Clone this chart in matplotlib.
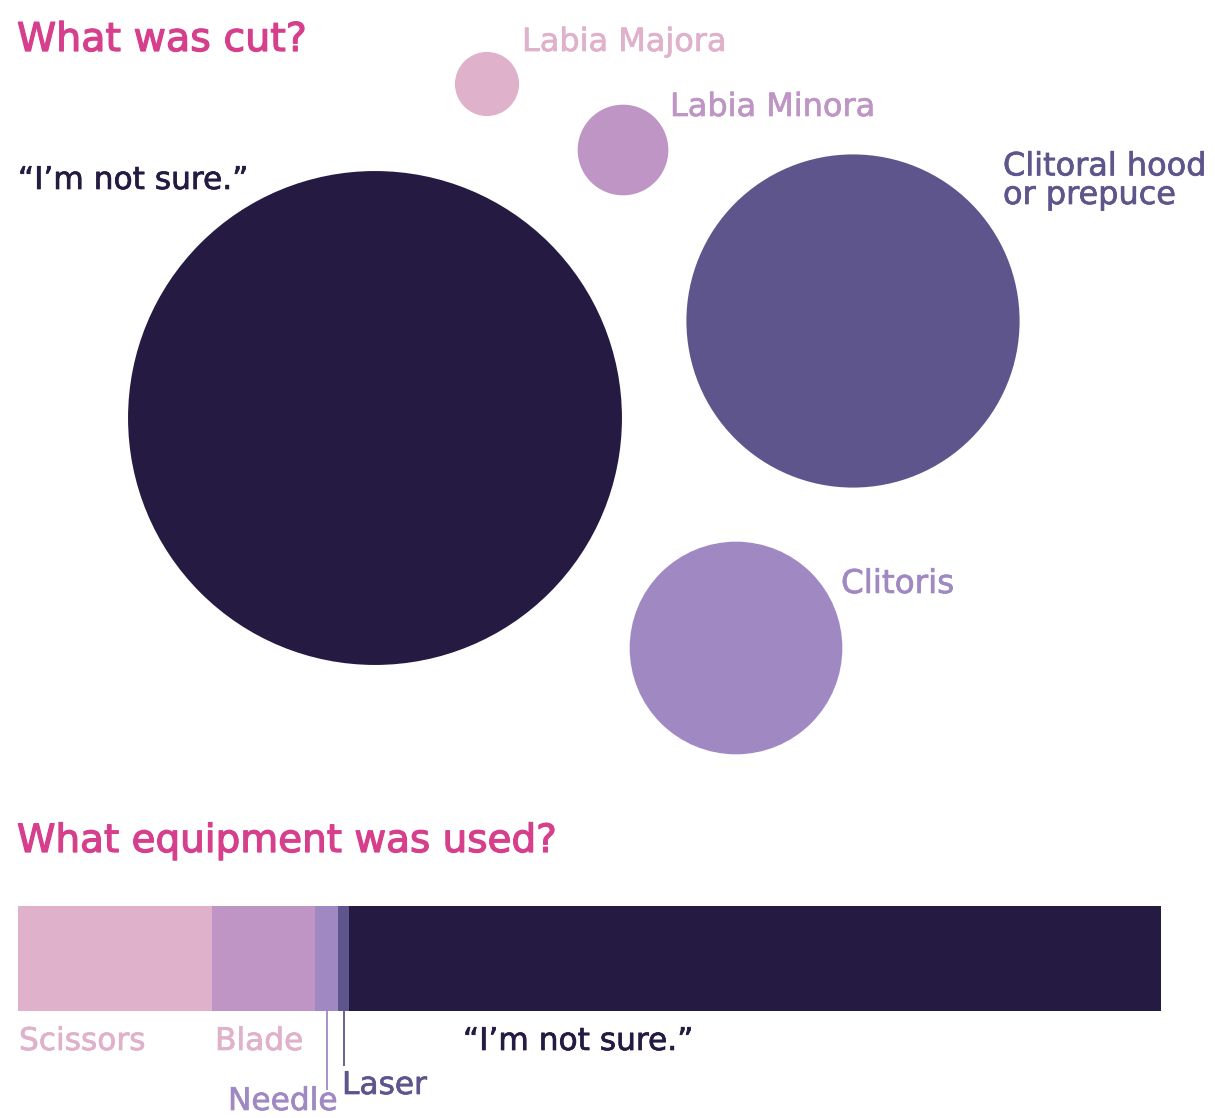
import matplotlib
matplotlib.use("Agg")
import matplotlib.pyplot as plt
import matplotlib.patheffects as pe
from matplotlib.patches import Circle
import numpy as np

# ---- data ----
cut_labels = ["\u201cI\u2019m not sure.\u201d", "Clitoral hood\nor prepuce", "Clitoris", "Labia Minora", "Labia Majora"]
cut_values = [178, 81, 33, 6, 3]
cut_colors = ["#241a42", "#5e558c", "#a089c2", "#be95c5", "#dfb1cb"]

equip_labels = ["Scissors", "Blade", "Needle", "Laser", "\u201cI\u2019m not sure.\u201d"]
equip_values = [17, 9, 2, 1, 71]
equip_colors = ["#dfb1cb", "#be95c5", "#a089c2", "#5e558c", "#241a42"]
equip_label_colors = ["#dfb1cb", "#dfb1cb", "#a089c2", "#5e558c", "#241a42"]

TITLE_COLOR = "#d63f8c"
W, H = 1215, 1118

# ---- layout (pixel positions) ----
centers = [(375, 418), (853, 321), (736, 648), (623, 150), (487, 84)]
label_pos = [(18, 189), (1003, 204), (841, 593), (670, 116), (522, 51)]
label_sizes = [22.5, 23, 23.5, 23, 23]
scale = 18.51  # radius per sqrt(value)

fig = plt.figure(figsize=(W / 100, H / 100), dpi=100)
ax = fig.add_axes([0, 0, 1, 1])
ax.set_xlim(0, W)
ax.set_ylim(H, 0)
ax.axis("off")

FONT = "DejaVu Sans"
thick = [pe.withStroke(linewidth=0.9, foreground=TITLE_COLOR)]
ax.text(17, 51, "What was cut?", color=TITLE_COLOR, fontsize=28.5, family=FONT,
        va="baseline", ha="left", path_effects=thick)
ax.text(17, 852, "What equipment was used?", color=TITLE_COLOR, fontsize=28, family=FONT,
        va="baseline", ha="left", path_effects=thick)

for lab, v, c, (cx, cy), (lx, ly), fs in zip(cut_labels, cut_values, cut_colors, centers,
                                              label_pos, label_sizes):
    r = scale * np.sqrt(v)
    ax.add_patch(Circle((cx, cy), r, color=c, lw=0))
    ax.text(lx, ly, lab, color=c, fontsize=fs, family=FONT, va="baseline", ha="left",
            linespacing=0.9, path_effects=[pe.withStroke(linewidth=0.5, foreground=c)])

# ---- equipment bar ----
bx0, bx1, by_top, by_bot = 18, 1161, 906, 1011
bax = fig.add_axes([bx0 / W, 1 - by_bot / H, (bx1 - bx0) / W, (by_bot - by_top) / H])
total = sum(equip_values)
bax.set_xlim(0, total)
bax.set_ylim(0, 1)
bax.axis("off")
lefts = np.cumsum([0] + equip_values[:-1])
bax.barh(0.5, equip_values, left=lefts, height=1.0, color=equip_colors, linewidth=0)

# leader lines for small segments (Needle, Laser)
line_len = {2: -0.75, 3: -0.52}
for i, yend in line_len.items():
    xm = lefts[i] + equip_values[i] / 2
    bax.plot([xm, xm], [0, yend], color=equip_colors[i], lw=1.3, clip_on=False,
             solid_capstyle="butt")

eq_label_pos = [(19, 1050), (215, 1050), (228, 1110), (342, 1094), (463, 1050)]
for lab, c, (lx, ly) in zip(equip_labels, equip_label_colors, eq_label_pos):
    ax.text(lx, ly, lab, color=c, fontsize=22.5, family=FONT, va="baseline", ha="left",
            path_effects=[pe.withStroke(linewidth=0.5, foreground=c)])

fig.savefig("out.png", dpi=100)
